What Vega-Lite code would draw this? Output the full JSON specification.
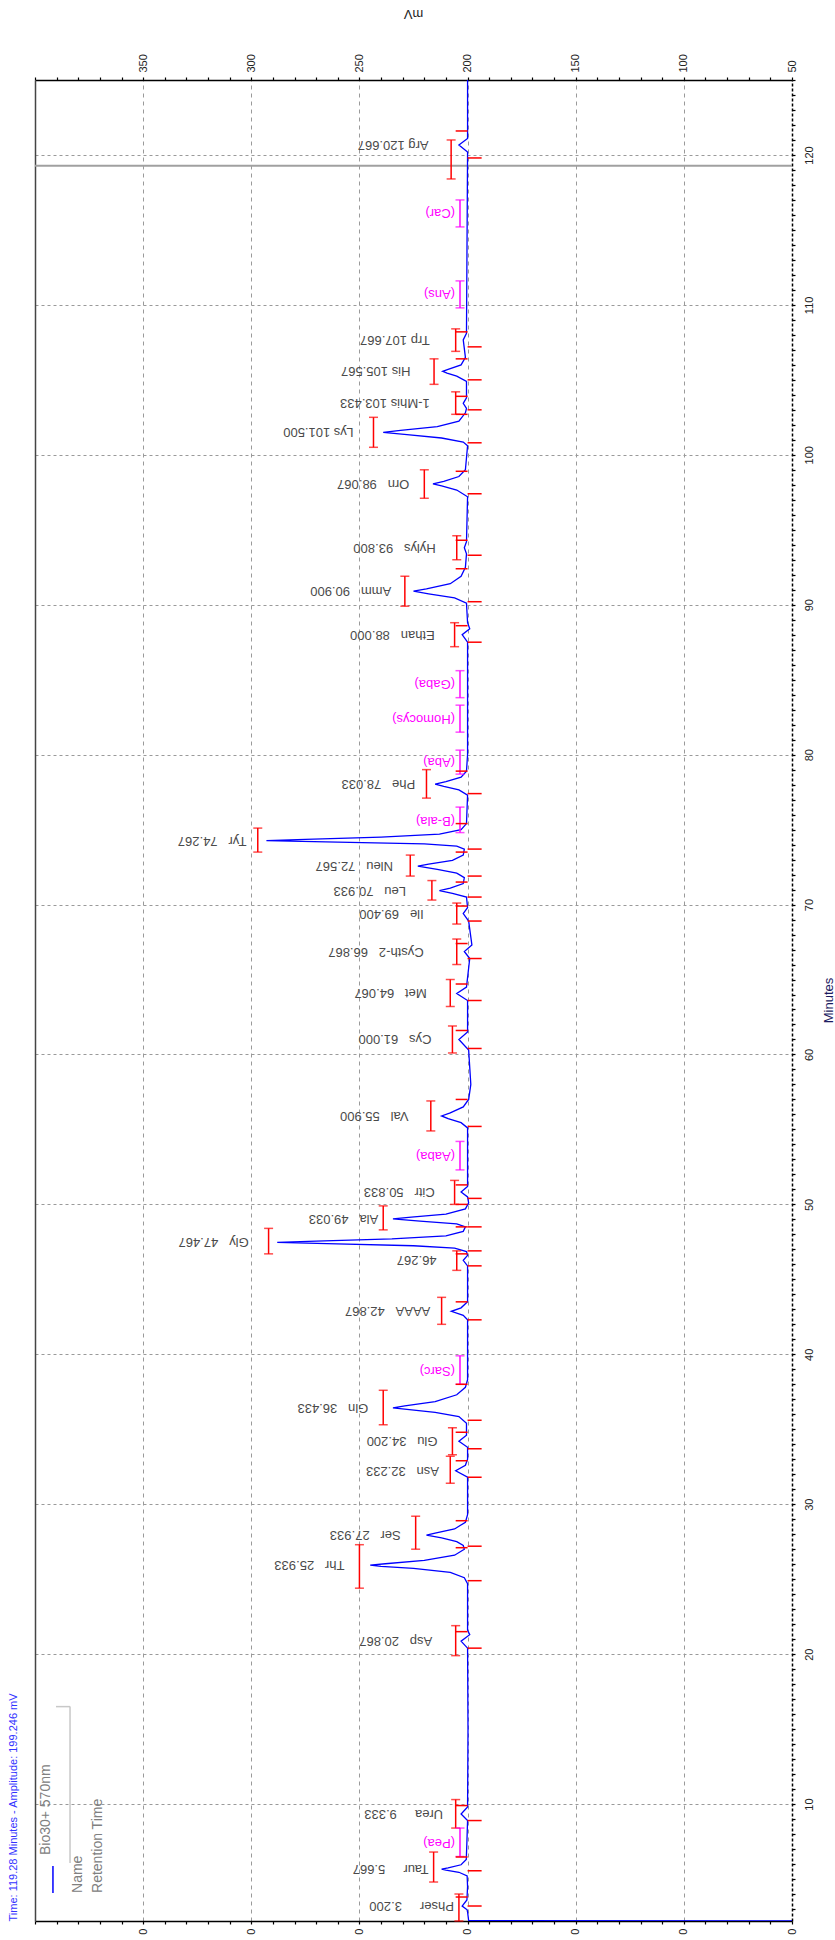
{
  "$schema": "https://vega.github.io/schema/vega-lite/v6.json",
  "width": 757,
  "height": 1841,
  "autosize": {"type": "none"},
  "padding": {"left": 35, "top": 80, "right": 43, "bottom": 19},
  "config": {"font": "Liberation Sans", "view": {"stroke": null}},
  "datasets": {
    "trace": [
      {"t": 2.2, "v": 50}, {"t": 2.23, "v": 199.5}, {"t": 2.8, "v": 200}, {"t": 2.95, "v": 200.2}, {"t": 3.2, "v": 202.5}, {"t": 3.6, "v": 200.3}, {"t": 4.5, "v": 200},
      {"t": 5.2, "v": 200.2}, {"t": 5.45, "v": 204}, {"t": 5.6, "v": 210}, {"t": 5.667, "v": 212}, {"t": 5.75, "v": 209}, {"t": 5.95, "v": 203}, {"t": 6.3, "v": 200.6},
      {"t": 7.5, "v": 200.3}, {"t": 8.9, "v": 200}, {"t": 9.333, "v": 203}, {"t": 9.8, "v": 200}, {"t": 15, "v": 199.8}, {"t": 20.4, "v": 200}, {"t": 20.867, "v": 203}, {"t": 21.3, "v": 199}, {"t": 21.6, "v": 200},
      {"t": 24.7, "v": 200}, {"t": 25.1, "v": 201.5}, {"t": 25.45, "v": 208}, {"t": 25.72, "v": 225}, {"t": 25.86, "v": 240}, {"t": 25.933, "v": 245}, {"t": 26.03, "v": 238}, {"t": 26.25, "v": 220}, {"t": 26.6, "v": 206}, {"t": 27.0, "v": 201.5},
      {"t": 27.25, "v": 202}, {"t": 27.5, "v": 205}, {"t": 27.75, "v": 212}, {"t": 27.933, "v": 219}, {"t": 28.07, "v": 215}, {"t": 28.35, "v": 206}, {"t": 28.8, "v": 201}, {"t": 29.3, "v": 200},
      {"t": 31.8, "v": 200}, {"t": 32.233, "v": 205.5}, {"t": 32.6, "v": 201}, {"t": 33.0, "v": 200}, {"t": 33.8, "v": 200}, {"t": 34.2, "v": 204}, {"t": 34.6, "v": 200.5},
      {"t": 35.4, "v": 200.5}, {"t": 35.85, "v": 204}, {"t": 36.12, "v": 215}, {"t": 36.32, "v": 228}, {"t": 36.433, "v": 234.5}, {"t": 36.56, "v": 229}, {"t": 36.85, "v": 215}, {"t": 37.3, "v": 205}, {"t": 37.8, "v": 201}, {"t": 38.3, "v": 200},
      {"t": 42.3, "v": 200}, {"t": 42.6, "v": 202}, {"t": 42.867, "v": 207.5}, {"t": 43.1, "v": 203}, {"t": 43.5, "v": 200}, {"t": 45.9, "v": 200}, {"t": 46.267, "v": 202}, {"t": 46.6, "v": 200},
      {"t": 46.85, "v": 200.5}, {"t": 47.08, "v": 206}, {"t": 47.24, "v": 225}, {"t": 47.38, "v": 265}, {"t": 47.467, "v": 288}, {"t": 47.55, "v": 270}, {"t": 47.7, "v": 235}, {"t": 47.9, "v": 210}, {"t": 48.2, "v": 202}, {"t": 48.5, "v": 201},
      {"t": 48.7, "v": 205}, {"t": 48.88, "v": 222}, {"t": 49.033, "v": 234.5}, {"t": 49.15, "v": 226}, {"t": 49.35, "v": 210}, {"t": 49.7, "v": 201}, {"t": 50.1, "v": 199.5},
      {"t": 50.5, "v": 200}, {"t": 50.833, "v": 203}, {"t": 51.2, "v": 200}, {"t": 55.1, "v": 200}, {"t": 55.45, "v": 203}, {"t": 55.72, "v": 209}, {"t": 55.9, "v": 212}, {"t": 56.1, "v": 208}, {"t": 56.5, "v": 202}, {"t": 57.0, "v": 199.5}, {"t": 58, "v": 198.5}, {"t": 60.3, "v": 199.5},
      {"t": 61.0, "v": 204}, {"t": 61.5, "v": 200}, {"t": 63.6, "v": 200}, {"t": 64.067, "v": 205}, {"t": 64.5, "v": 200.5}, {"t": 66.4, "v": 199}, {"t": 66.867, "v": 201.5}, {"t": 67.3, "v": 198}, {"t": 68.9, "v": 199.5},
      {"t": 69.4, "v": 202}, {"t": 69.8, "v": 200}, {"t": 70.5, "v": 200.5}, {"t": 70.75, "v": 207}, {"t": 70.933, "v": 213}, {"t": 71.1, "v": 208}, {"t": 71.4, "v": 202}, {"t": 71.8, "v": 201.5},
      {"t": 72.1, "v": 205}, {"t": 72.35, "v": 214}, {"t": 72.567, "v": 223}, {"t": 72.7, "v": 218}, {"t": 72.95, "v": 207}, {"t": 73.3, "v": 202}, {"t": 73.7, "v": 201.5},
      {"t": 73.9, "v": 205}, {"t": 74.05, "v": 220}, {"t": 74.17, "v": 260}, {"t": 74.267, "v": 293}, {"t": 74.35, "v": 275}, {"t": 74.5, "v": 240}, {"t": 74.7, "v": 213}, {"t": 75.0, "v": 203}, {"t": 75.4, "v": 200.5},
      {"t": 77.3, "v": 200}, {"t": 77.65, "v": 204}, {"t": 77.88, "v": 211}, {"t": 78.033, "v": 215}, {"t": 78.2, "v": 210}, {"t": 78.5, "v": 203}, {"t": 78.9, "v": 200.5}, {"t": 80, "v": 200},
      {"t": 87.5, "v": 200}, {"t": 88.0, "v": 202.5}, {"t": 88.4, "v": 199}, {"t": 88.8, "v": 200}, {"t": 90.1, "v": 200.5}, {"t": 90.45, "v": 206}, {"t": 90.73, "v": 218}, {"t": 90.9, "v": 225}, {"t": 91.06, "v": 219}, {"t": 91.4, "v": 208}, {"t": 91.9, "v": 203}, {"t": 92.5, "v": 201},
      {"t": 93.4, "v": 200.5}, {"t": 93.8, "v": 201.5}, {"t": 94.2, "v": 200.5}, {"t": 97.2, "v": 200}, {"t": 97.65, "v": 205}, {"t": 97.93, "v": 212}, {"t": 98.067, "v": 216}, {"t": 98.22, "v": 211}, {"t": 98.55, "v": 204}, {"t": 99.0, "v": 201},
      {"t": 100.6, "v": 200}, {"t": 100.85, "v": 202}, {"t": 101.12, "v": 212}, {"t": 101.34, "v": 228}, {"t": 101.5, "v": 239}, {"t": 101.63, "v": 231}, {"t": 101.88, "v": 214}, {"t": 102.25, "v": 204}, {"t": 102.8, "v": 201},
      {"t": 103.1, "v": 200.5}, {"t": 103.433, "v": 202}, {"t": 103.8, "v": 200.5}, {"t": 104.9, "v": 200.5}, {"t": 105.25, "v": 205}, {"t": 105.45, "v": 209.5}, {"t": 105.567, "v": 211.5}, {"t": 105.7, "v": 209}, {"t": 106.0, "v": 203}, {"t": 106.5, "v": 201},
      {"t": 107.667, "v": 202}, {"t": 108.1, "v": 200.5}, {"t": 120.2, "v": 200}, {"t": 120.667, "v": 204}, {"t": 121.1, "v": 200}, {"t": 125, "v": 200}
    ],
    "peaks": [
      {"label": "Phser\u00a0\u00a0\u00a0\u00a0\u00a03.200", "rt": 3.2, "top": 204, "lx": 204, "t0": 2.2, "t1": 4.0, "ts": 3.2, "te": 3.8, "kind": "found"},
      {"label": "Taur\u00a0\u00a0\u00a0\u00a0\u00a05.667", "rt": 5.667, "top": 215.7, "lx": 215.7, "t0": 4.8, "t1": 6.8, "ts": 5.55, "te": 6.47, "kind": "found"},
      {"label": "(Pea)", "rt": 7.4, "top": 203.5, "lx": 203.5, "t0": 6.5, "t1": 8.4, "ts": null, "te": null, "kind": "missing"},
      {"label": "Urea\u00a0\u00a0\u00a0\u00a0\u00a09.333", "rt": 9.333, "top": 205.5, "lx": 209, "t0": 8.4, "t1": 10.3, "ts": 8.9, "te": 9.9, "kind": "found"},
      {"label": "Asp\u00a0\u00a0\u00a020.867", "rt": 20.867, "top": 205.5, "lx": 214, "t0": 19.9, "t1": 21.9, "ts": 20.4, "te": 21.5, "kind": "found"},
      {"label": "Thr\u00a0\u00a0\u00a025.933", "rt": 25.933, "top": 250, "lx": 254.6, "t0": 24.4, "t1": 27.3, "ts": 24.9, "te": 27.1, "kind": "found"},
      {"label": "Ser\u00a0\u00a0\u00a027.933", "rt": 27.933, "top": 224, "lx": 228.6, "t0": 27.0, "t1": 29.2, "ts": 27.2, "te": 28.9, "kind": "found"},
      {"label": "Asn\u00a0\u00a0\u00a032.233", "rt": 32.233, "top": 208, "lx": 210.9, "t0": 31.4, "t1": 33.2, "ts": 31.8, "te": 32.9, "kind": "found"},
      {"label": "Glu\u00a0\u00a0\u00a034.200", "rt": 34.2, "top": 207, "lx": 211.6, "t0": 33.3, "t1": 35.1, "ts": 33.7, "te": 34.8, "kind": "found"},
      {"label": "Gln\u00a0\u00a0\u00a036.433", "rt": 36.433, "top": 239, "lx": 243.6, "t0": 35.3, "t1": 37.6, "ts": 35.6, "te": 38.0, "kind": "found"},
      {"label": "(Sarc)", "rt": 38.9, "top": 203.5, "lx": 203.5, "t0": 38.0, "t1": 39.9, "ts": null, "te": null, "kind": "missing"},
      {"label": "AAAA\u00a0\u00a0\u00a042.867", "rt": 42.867, "top": 212, "lx": 214.9, "t0": 42.0, "t1": 43.8, "ts": 42.3, "te": 43.5, "kind": "found"},
      {"label": "46.267", "rt": 46.267, "top": 205, "lx": 212, "t0": 45.6, "t1": 46.9, "ts": 45.9, "te": 46.7, "kind": "found"},
      {"label": "Gly\u00a0\u00a0\u00a047.467", "rt": 47.467, "top": 292, "lx": 298.9, "t0": 46.7, "t1": 48.4, "ts": 46.9, "te": 48.5, "kind": "found"},
      {"label": "Ala\u00a0\u00a0\u00a049.033", "rt": 49.033, "top": 239, "lx": 239, "t0": 48.3, "t1": 49.9, "ts": 48.5, "te": 50.0, "kind": "found"},
      {"label": "Citr\u00a0\u00a0\u00a050.833", "rt": 50.833, "top": 206, "lx": 212.9, "t0": 50.0, "t1": 51.6, "ts": 50.4, "te": 51.3, "kind": "found"},
      {"label": "(Aaba)", "rt": 53.2, "top": 203.5, "lx": 203.5, "t0": 52.3, "t1": 54.2, "ts": null, "te": null, "kind": "missing"},
      {"label": "Val\u00a0\u00a0\u00a055.900", "rt": 55.9, "top": 217, "lx": 225, "t0": 54.9, "t1": 56.9, "ts": 55.2, "te": 57.0, "kind": "found"},
      {"label": "Cys\u00a0\u00a0\u00a061.000", "rt": 61.0, "top": 207, "lx": 214.4, "t0": 60.1, "t1": 61.9, "ts": 60.4, "te": 61.6, "kind": "found"},
      {"label": "Met\u00a0\u00a0\u00a064.067", "rt": 64.067, "top": 208, "lx": 216.6, "t0": 63.2, "t1": 65.0, "ts": 63.6, "te": 64.7, "kind": "found"},
      {"label": "Cysth-2\u00a0\u00a0\u00a066.867", "rt": 66.867, "top": 205, "lx": 218, "t0": 66.0, "t1": 67.7, "ts": 66.4, "te": 67.4, "kind": "found"},
      {"label": "Ile\u00a0\u00a0\u00a069.400", "rt": 69.4, "top": 205, "lx": 218, "t0": 68.7, "t1": 70.1, "ts": 68.9, "te": 69.9, "kind": "found"},
      {"label": "Leu\u00a0\u00a0\u00a070.933", "rt": 70.933, "top": 216.5, "lx": 226.2, "t0": 70.3, "t1": 71.6, "ts": 70.5, "te": 71.5, "kind": "found"},
      {"label": "Nleu\u00a0\u00a0\u00a072.567", "rt": 72.567, "top": 226.5, "lx": 232.2, "t0": 71.9, "t1": 73.3, "ts": 71.9, "te": 73.5, "kind": "found"},
      {"label": "Tyr\u00a0\u00a0\u00a074.267", "rt": 74.267, "top": 297, "lx": 299.9, "t0": 73.5, "t1": 75.1, "ts": 73.7, "te": 75.4, "kind": "found"},
      {"label": "(B-ala)", "rt": 75.6, "top": 203.5, "lx": 203.5, "t0": 74.8, "t1": 76.5, "ts": null, "te": null, "kind": "missing"},
      {"label": "Phe\u00a0\u00a0\u00a078.033", "rt": 78.033, "top": 219, "lx": 221.9, "t0": 77.1, "t1": 79.0, "ts": 77.4, "te": 78.9, "kind": "found"},
      {"label": "(Aba)", "rt": 79.5, "top": 203.5, "lx": 203.5, "t0": 78.7, "t1": 80.3, "ts": null, "te": null, "kind": "missing"},
      {"label": "(Homocys)", "rt": 82.4, "top": 203.5, "lx": 203.5, "t0": 81.5, "t1": 83.3, "ts": null, "te": null, "kind": "missing"},
      {"label": "(Gaba)", "rt": 84.7, "top": 203.5, "lx": 203.5, "t0": 83.8, "t1": 85.6, "ts": null, "te": null, "kind": "missing"},
      {"label": "Ethan\u00a0\u00a0\u00a088.000", "rt": 88.0, "top": 206, "lx": 212.9, "t0": 87.2, "t1": 88.8, "ts": 87.5, "te": 88.6, "kind": "found"},
      {"label": "Amm\u00a0\u00a0\u00a090.900", "rt": 90.9, "top": 229, "lx": 233, "t0": 89.9, "t1": 91.9, "ts": 90.2, "te": 92.4, "kind": "found"},
      {"label": "Hylys\u00a0\u00a0\u00a093.800", "rt": 93.8, "top": 205, "lx": 212.4, "t0": 93.0, "t1": 94.6, "ts": 93.3, "te": 94.3, "kind": "found"},
      {"label": "Orn\u00a0\u00a0\u00a098.067", "rt": 98.067, "top": 220, "lx": 224.6, "t0": 97.1, "t1": 99.0, "ts": 97.4, "te": 98.9, "kind": "found"},
      {"label": "Lys\u00a0101.500", "rt": 101.5, "top": 243.5, "lx": 250.4, "t0": 100.5, "t1": 102.5, "ts": 100.8, "te": 102.7, "kind": "found"},
      {"label": "1-Mhis\u00a0103.433", "rt": 103.433, "top": 205.5, "lx": 215.2, "t0": 102.7, "t1": 104.2, "ts": 103.0, "te": 103.9, "kind": "found"},
      {"label": "His\u00a0105.567", "rt": 105.567, "top": 215.5, "lx": 224.1, "t0": 104.7, "t1": 106.4, "ts": 105.0, "te": 106.4, "kind": "found"},
      {"label": "Trp\u00a0107.667", "rt": 107.667, "top": 205.5, "lx": 215.2, "t0": 106.9, "t1": 108.4, "ts": 107.2, "te": 108.2, "kind": "found"},
      {"label": "(Ans)", "rt": 110.7, "top": 203.5, "lx": 203.5, "t0": 109.8, "t1": 111.6, "ts": null, "te": null, "kind": "missing"},
      {"label": "(Car)", "rt": 116.1, "top": 203.5, "lx": 203.5, "t0": 115.2, "t1": 117.0, "ts": null, "te": null, "kind": "missing"},
      {"label": "Arg\u00a0120.667", "rt": 120.667, "top": 207.6, "lx": 215.7, "t0": 118.4, "t1": 121.0, "ts": 119.8, "te": 121.6, "kind": "found"}
    ]
  },
  "resolve": {"axis": {"x": "independent", "y": "independent"}},
  "layer": [
    {
      "data": {"values": [{}]},
      "mark": {"type": "rule", "color": "#a0a0a0", "strokeWidth": 2},
      "encoding": {
        "y": {
          "datum": 119.28, "type": "quantitative",
          "scale": {"domain": [2.2, 125], "nice": false, "zero": false},
          "axis": {
            "orient": "left", "labels": false, "ticks": false, "grid": false,
            "domain": true, "domainColor": "#444444", "domainWidth": 1.5,
            "title": "Time:  119.28 Minutes - Amplitude:  199.246 mV",
            "titleAngle": 270, "titleAlign": "left", "titleBaseline": "middle",
            "titleX": -22, "titleY": 1841, "titleColor": "#3333ff",
            "titleFontSize": 11, "titleFontWeight": "normal", "titleFont": "Liberation Sans"
          }
        }
      }
    },
    {
      "data": {"name": "trace"},
      "mark": {"type": "line", "color": "#0000ff", "strokeWidth": 1.3, "clip": true},
      "encoding": {
        "x": {
          "field": "v", "type": "quantitative",
          "scale": {"domain": [50, 400], "reverse": true, "nice": false, "zero": false},
          "axis": {
            "orient": "top",
            "values": [50, 60, 70, 80, 90, 100, 110, 120, 130, 140, 150, 160, 170, 180, 190, 200, 210, 220, 230, 240, 250, 260, 270, 280, 290, 300, 310, 320, 330, 340, 350, 360, 370, 380, 390, 400],
            "labelExpr": "datum.value % 50 === 0 && datum.value < 400 ? datum.label : ''",
            "labelAngle": 270, "labelAlign": "left", "labelBaseline": "middle",
            "labelFontSize": 11, "labelColor": "#222222", "labelPadding": 5,
            "labelOverlap": false, "labelFlush": false, "labelBound": false,
            "tickSize": 3, "tickColor": "#000000", "tickWidth": 1.2,
            "domainColor": "#000000", "domainWidth": 1.5,
            "grid": true, "gridDash": [4, 4], "gridColor": "#9a9a9a",
            "gridOpacity": {"condition": {"test": "datum.value % 50 === 0 && datum.value > 50 && datum.value < 400", "value": 1}, "value": 0},
            "title": "mV", "titleAngle": 180, "titleX": 378, "titleY": -67,
            "titleAlign": "center", "titleBaseline": "middle",
            "titleFontSize": 13, "titleFontWeight": "normal", "titleColor": "#222222"
          }
        },
        "y": {
          "field": "t", "type": "quantitative",
          "scale": {"domain": [2.2, 125], "nice": false, "zero": false},
          "axis": {
            "orient": "right",
            "values": [3, 4, 5, 6, 7, 8, 9, 10, 11, 12, 13, 14, 15, 16, 17, 18, 19, 20, 21, 22, 23, 24, 25, 26, 27, 28, 29, 30, 31, 32, 33, 34, 35, 36, 37, 38, 39, 40, 41, 42, 43, 44, 45, 46, 47, 48, 49, 50, 51, 52, 53, 54, 55, 56, 57, 58, 59, 60, 61, 62, 63, 64, 65, 66, 67, 68, 69, 70, 71, 72, 73, 74, 75, 76, 77, 78, 79, 80, 81, 82, 83, 84, 85, 86, 87, 88, 89, 90, 91, 92, 93, 94, 95, 96, 97, 98, 99, 100, 101, 102, 103, 104, 105, 106, 107, 108, 109, 110, 111, 112, 113, 114, 115, 116, 117, 118, 119, 120, 121, 122, 123, 124, 125],
            "labelExpr": "datum.value % 10 === 0 ? datum.label : ''",
            "labelAngle": 270, "labelAlign": "center", "labelBaseline": "top",
            "labelFontSize": 11, "labelColor": "#222222", "labelPadding": 8,
            "labelOverlap": false, "labelFlush": false, "labelBound": false,
            "tickSize": 3, "tickColor": "#000000", "tickWidth": 1.2,
            "domainColor": "#000000", "domainWidth": 1.5, "domainDash": [3, 2],
            "grid": true, "gridDash": [3, 3], "gridColor": "#9a9a9a",
            "gridOpacity": {"condition": {"test": "datum.value % 10 === 0", "value": 1}, "value": 0},
            "title": "Minutes", "titleAngle": 270, "titleX": 36, "titleY": 920,
            "titleAlign": "center", "titleBaseline": "middle",
            "titleFontSize": 13, "titleFontWeight": "normal", "titleColor": "#1a1a60"
          }
        },
        "order": {"field": "t", "type": "quantitative"}
      }
    },
    {
      "data": {"name": "peaks"},
      "mark": {"type": "rule", "strokeWidth": 1.5},
      "encoding": {
        "x": {
          "field": "top", "type": "quantitative",
          "axis": {
            "orient": "bottom",
            "values": [50, 60, 70, 80, 90, 100, 110, 120, 130, 140, 150, 160, 170, 180, 190, 200, 210, 220, 230, 240, 250, 260, 270, 280, 290, 300, 310, 320, 330, 340, 350, 360, 370, 380, 390, 400],
            "labelExpr": "datum.value % 50 === 0 && datum.value < 400 ? '0' : ''",
            "labelAngle": 270, "labelAlign": "right", "labelBaseline": "middle",
            "labelFontSize": 11, "labelColor": "#222222", "labelPadding": 4,
            "labelOverlap": false, "labelFlush": false, "labelBound": false,
            "tickSize": 3, "tickColor": "#000000", "tickWidth": 1.2,
            "domainColor": "#000000", "domainWidth": 1.5, "grid": false, "title": null
          }
        },
        "y": {"field": "t0", "type": "quantitative", "axis": null},
        "y2": {"field": "t1"},
        "color": {"condition": {"test": "datum.kind === 'missing'", "value": "#ff00ff"}, "value": "#ff0000"}
      }
    },
    {
      "data": {"name": "peaks"},
      "mark": {"type": "tick", "orient": "horizontal", "size": 9, "thickness": 1.5},
      "encoding": {
        "x": {"field": "top", "type": "quantitative", "axis": null},
        "y": {"field": "t0", "type": "quantitative", "axis": null},
        "color": {"condition": {"test": "datum.kind === 'missing'", "value": "#ff00ff"}, "value": "#ff0000"}
      }
    },
    {
      "data": {"name": "peaks"},
      "mark": {"type": "tick", "orient": "horizontal", "size": 9, "thickness": 1.5},
      "encoding": {
        "x": {"field": "top", "type": "quantitative", "axis": null},
        "y": {"field": "t1", "type": "quantitative", "axis": null},
        "color": {"condition": {"test": "datum.kind === 'missing'", "value": "#ff00ff"}, "value": "#ff0000"}
      }
    },
    {
      "data": {"name": "peaks"},
      "transform": [{"filter": "datum.kind === 'found'"}],
      "mark": {"type": "rule", "color": "#ff0000", "strokeWidth": 1.5},
      "encoding": {
        "x": {"datum": 200, "type": "quantitative", "axis": null},
        "x2": {"datum": 193.5},
        "y": {"field": "ts", "type": "quantitative", "axis": null}
      }
    },
    {
      "data": {"name": "peaks"},
      "transform": [{"filter": "datum.kind === 'found'"}],
      "mark": {"type": "rule", "color": "#ff0000", "strokeWidth": 1.5},
      "encoding": {
        "x": {"datum": 200, "type": "quantitative", "axis": null},
        "x2": {"datum": 205.5},
        "y": {"field": "te", "type": "quantitative", "axis": null}
      }
    },
    {
      "data": {"name": "peaks"},
      "mark": {"type": "text", "angle": 180, "align": "left", "baseline": "middle", "dx": 5, "fontSize": 13},
      "encoding": {
        "x": {"field": "lx", "type": "quantitative", "axis": null},
        "y": {"field": "rt", "type": "quantitative", "axis": null},
        "text": {"field": "label"},
        "color": {"condition": {"test": "datum.kind === 'missing'", "value": "#ff00ff"}, "value": "#4a4a4a"}
      }
    },
    {
      "data": {"values": [{}]},
      "mark": {"type": "rule", "color": "#c8c8c8", "strokeWidth": 1.5},
      "encoding": {
        "x": {"datum": 383.8, "type": "quantitative", "axis": null},
        "y": {"datum": 6.07, "type": "quantitative", "axis": null},
        "y2": {"datum": 16.5}
      }
    },
    {
      "data": {"values": [{}]},
      "mark": {"type": "rule", "color": "#c8c8c8", "strokeWidth": 1.5},
      "encoding": {
        "x": {"datum": 390.3, "type": "quantitative", "axis": null},
        "x2": {"datum": 383.8},
        "y": {"datum": 16.5, "type": "quantitative", "axis": null}
      }
    },
    {
      "data": {"values": [{}]},
      "mark": {"type": "rule", "color": "#0000ff", "strokeWidth": 1.5},
      "encoding": {
        "x": {"datum": 391.7, "type": "quantitative", "axis": null},
        "y": {"datum": 4.07, "type": "quantitative", "axis": null},
        "y2": {"datum": 5.87}
      }
    },
    {
      "data": {"values": [{}]},
      "mark": {"type": "text", "angle": 270, "align": "left", "baseline": "middle", "fontSize": 14, "color": "#808080", "text": "Bio30+ 570nm"},
      "encoding": {
        "x": {"datum": 394.9, "type": "quantitative", "axis": null},
        "y": {"datum": 6.6, "type": "quantitative", "axis": null}
      }
    },
    {
      "data": {"values": [{}]},
      "mark": {"type": "text", "angle": 270, "align": "left", "baseline": "middle", "fontSize": 14, "color": "#808080", "text": "Name"},
      "encoding": {
        "x": {"datum": 380.1, "type": "quantitative", "axis": null},
        "y": {"datum": 4.07, "type": "quantitative", "axis": null}
      }
    },
    {
      "data": {"values": [{}]},
      "mark": {"type": "text", "angle": 270, "align": "left", "baseline": "middle", "fontSize": 14, "color": "#808080", "text": "Retention Time"},
      "encoding": {
        "x": {"datum": 370.9, "type": "quantitative", "axis": null},
        "y": {"datum": 4.07, "type": "quantitative", "axis": null}
      }
    }
  ]
}
